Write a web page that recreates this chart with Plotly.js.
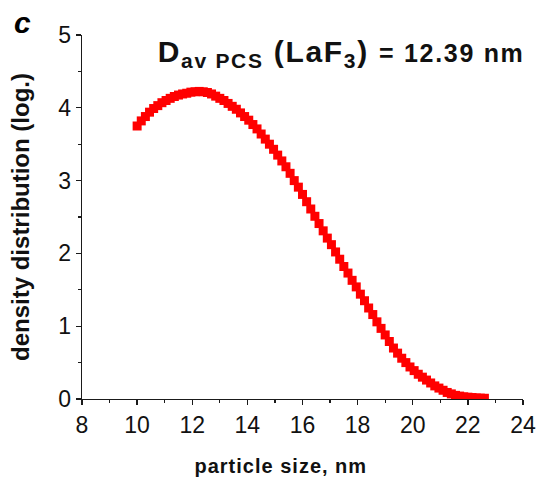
<!DOCTYPE html>
<html>
<head>
<meta charset="utf-8">
<script src="https://cdn.plot.ly/plotly-3.0.1.min.js"></script>
<style>
html,body{margin:0;padding:0;background:#fff;}
#chart{width:542px;height:481px;}
#chart .annotation[data-index="1"] .annotation-text{letter-spacing:1.7px;}
#chart .annotation[data-index="2"] .annotation-text{letter-spacing:1px;}
</style>
</head>
<body>
<div id="chart"></div>
<script>
// particle size (nm)
var sizeNm = [10.00,10.15,10.30,10.45,10.60,10.75,10.90,11.05,11.20,11.35,11.50,11.65,11.80,11.95,12.10,12.25,12.40,12.55,12.70,12.85,13.00,13.15,13.30,13.45,13.60,13.75,13.90,14.05,14.20,14.35,14.50,14.65,14.80,14.95,15.10,15.25,15.40,15.55,15.70,15.85,16.00,16.15,16.30,16.45,16.60,16.75,16.90,17.05,17.20,17.35,17.50,17.65,17.80,17.95,18.10,18.25,18.40,18.55,18.70,18.85,19.00,19.15,19.30,19.45,19.60,19.75,19.90,20.05,20.20,20.35,20.50,20.65,20.80,20.95,21.10,21.25,21.40,21.55,21.70,21.85,22.00,22.15,22.30,22.45,22.60];
// density distribution (log.)
var density = [3.75,3.82,3.88,3.94,3.99,4.03,4.07,4.10,4.13,4.155,4.175,4.19,4.20,4.215,4.22,4.225,4.22,4.21,4.19,4.16,4.13,4.10,4.06,4.02,3.98,3.93,3.88,3.83,3.77,3.71,3.64,3.57,3.50,3.43,3.35,3.27,3.19,3.10,3.00,2.91,2.81,2.71,2.61,2.51,2.41,2.31,2.21,2.12,2.02,1.92,1.82,1.73,1.63,1.54,1.44,1.35,1.25,1.16,1.06,0.97,0.88,0.79,0.70,0.63,0.56,0.50,0.44,0.39,0.34,0.30,0.26,0.22,0.18,0.15,0.12,0.09,0.07,0.05,0.04,0.03,0.025,0.02,0.015,0.012,0.01];
var xTicks = [8,10,12,14,16,18,20,22,24];
var yTicks = [0,1,2,3,4,5];
var panelLabel = "c";
var annotationText = "<b>D<sub>av PCS</sub> (LaF<sub>3</sub>) <span style=\"font-size:25px\">= 12.39 nm</span></b>";
var xTitle = "particle size, nm";
var yTitle = "density distribution (log.)";

var FONT = "Liberation Sans, Arial, sans-serif";

var trace = {
  x: sizeNm,
  y: density,
  type: "scatter",
  mode: "markers",
  marker: {symbol: "square", size: 9, color: "#ff0000", line: {width: 0}},
  hoverinfo: "skip",
  showlegend: false
};

var axisCommon = {
  showline: true,
  linecolor: "#1a1a1a",
  linewidth: 1.3,
  mirror: false,
  showgrid: false,
  zeroline: false,
  ticks: "outside",
  ticklen: 5,
  tickwidth: 1.3,
  tickcolor: "#1a1a1a",
  tickfont: {family: FONT, size: 23, color: "#111"}
};

var layout = {
  width: 542,
  height: 481,
  margin: {l: 82, r: 19, t: 35, b: 82},
  paper_bgcolor: "#fff",
  plot_bgcolor: "#fff",
  xaxis: Object.assign({}, axisCommon, {
    range: [8, 24],
    tickmode: "array",
    tickvals: xTicks,
    ticktext: xTicks.map(String),
    minor: {ticks: "outside", ticklen: 3, tickwidth: 1.2, tickcolor: "#1a1a1a", dtick: 1, tick0: 8}
  }),
  yaxis: Object.assign({}, axisCommon, {
    range: [0, 5],
    tickmode: "array",
    tickvals: yTicks,
    ticktext: yTicks.map(String),
    minor: {ticks: "outside", ticklen: 3, tickwidth: 1.2, tickcolor: "#1a1a1a", dtick: 0.5, tick0: 0},
    title: {text: "<b>" + yTitle + "</b>", font: {family: FONT, size: 24, color: "#111"}, standoff: 22}
  }),
  annotations: [
    {
      text: "<b><i>" + panelLabel + "</i></b>",
      xref: "paper", yref: "paper",
      x: -0.158, y: 1.033, xanchor: "left", yanchor: "middle",
      showarrow: false,
      font: {family: FONT, size: 30, color: "#000"}
    },
    {
      text: annotationText,
      xref: "x", yref: "y",
      x: 11.45, y: 4.75, xanchor: "left", yanchor: "middle",
      showarrow: false,
      font: {family: FONT, size: 30, color: "#111"}
    },
    {
      text: "<b>" + xTitle + "</b>",
      xref: "paper", yref: "paper",
      x: 0.451, y: -0.184, xanchor: "center", yanchor: "middle",
      showarrow: false,
      font: {family: FONT, size: 20, color: "#111"}
    }
  ]
};

Plotly.newPlot("chart", [trace], layout, {displayModeBar: false, staticPlot: true});
</script>
</body>
</html>
